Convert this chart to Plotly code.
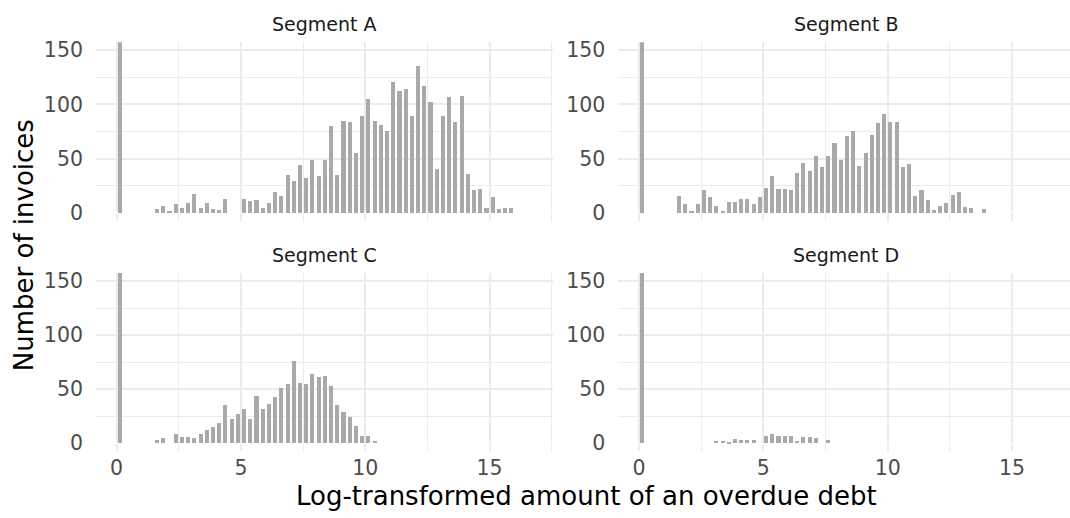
import plotly.graph_objects as go

# ---------------- data ----------------
BIN_WIDTH = 0.25
segments = ["Segment A", "Segment B", "Segment C", "Segment D"]

# counts per 0.25-wide bin, starting at bin [0, 0.25)
counts_a = [420, 0, 0, 0, 0, 0, 3, 6, 1, 8, 4, 9, 17, 4, 9, 3, 2, 13, 0, 0,
            13, 11, 12, 4, 9, 19, 15, 35, 29, 44, 32, 49, 34, 49, 80, 35, 85, 84, 55, 89,
            105, 85, 81, 75, 121, 112, 114, 89, 135, 117, 102, 40, 89, 107, 84, 108, 36, 21, 22, 4,
            14, 3, 4, 4]
counts_b = [380, 0, 0, 0, 0, 0, 15, 8, 1, 8, 21, 14, 6, 1, 10, 10, 13, 13, 8, 14,
            23, 34, 22, 22, 21, 37, 46, 38, 52, 42, 52, 64, 49, 71, 75, 43, 55, 72, 83, 91,
            84, 84, 42, 45, 15, 21, 12, 2, 6, 9, 16, 19, 5, 4, 0, 3, 0, 0, 0, 0,
            0, 0, 0, 0]
counts_c = [450, 0, 0, 0, 0, 0, 3, 5, 0, 8, 6, 6, 5, 8, 12, 15, 19, 35, 22, 27,
            32, 22, 44, 32, 36, 43, 51, 55, 76, 56, 55, 64, 61, 62, 53, 35, 29, 24, 16, 7,
            7, 2, 0, 0, 0, 0, 0, 0, 0, 0, 0, 0, 0, 0, 0, 0, 0, 0, 0, 0,
            0, 0, 0, 0]
counts_d = [400, 0, 0, 0, 0, 0, 0, 0, 0, 0, 0, 0, 2, 2, 1, 4, 3, 3, 3, 0,
            7, 8, 7, 7, 7, 2, 6, 6, 5, 0, 3, 0, 0, 0, 0, 0, 0, 0, 0, 0,
            0, 0, 0, 0, 0, 0, 0, 0, 0, 0, 0, 0, 0, 0, 0, 0, 0, 0, 0, 0,
            0, 0, 0, 0]
all_counts = [counts_a, counts_b, counts_c, counts_d]

x_ticks = [0, 5, 10, 15]
x_minor = [2.5, 7.5, 12.5, 17.5]
y_ticks = [0, 50, 100, 150]
y_minor = [25, 75, 125]

# ---------------- layout geometry ----------------
W, H = 1070, 518
FONT = "DejaVu Sans"
BAR_COLOR = "#A9A9A9"
GRID = "#EBEBEB"

x_domains = [[96 / W, 553 / W], [618.4 / W, 1.0], [96 / W, 553 / W], [618.4 / W, 1.0]]
x_ranges = [[-0.83, 17.55], [-0.83, 17.33], [-0.83, 17.55], [-0.83, 17.33]]
y_domains = [[1 - 220.25 / H, 1 - 38.75 / H], [1 - 220.25 / H, 1 - 38.75 / H],
             [1 - 454.2 / H, 1 - 273.2 / H], [1 - 454.2 / H, 1 - 273.2 / H]]

fig = go.Figure()
for i, (name, cnts) in enumerate(zip(segments, all_counts)):
    centers = [BIN_WIDTH / 2 + BIN_WIDTH * k for k in range(len(cnts))]
    xs = [c for c, v in zip(centers, cnts) if v > 0]
    ys = [v for v in cnts if v > 0]
    sfx = "" if i == 0 else str(i + 1)
    fig.add_trace(go.Bar(
        x=xs, y=ys, width=0.165, marker=dict(color=BAR_COLOR, line=dict(width=0)),
        xaxis="x" + sfx, yaxis="y" + sfx, showlegend=False, name=name,
    ))

layout = dict(
    width=W, height=H,
    margin=dict(l=0, r=0, t=0, b=0),
    paper_bgcolor="white", plot_bgcolor="white",
    font=dict(family=FONT, color="#4D4D4D"),
    bargap=0,
)
for i in range(4):
    sfx = "" if i == 0 else str(i + 1)
    bottom = i >= 2
    layout["xaxis" + sfx] = dict(
        domain=x_domains[i], range=x_ranges[i], anchor="y" + sfx,
        tickmode="array", tickvals=x_ticks, showticklabels=bottom,
        tickfont=dict(size=20.5, color="#4D4D4D", family=FONT),
        showgrid=True, gridcolor=GRID, gridwidth=2,
        minor=dict(tickvals=x_minor, showgrid=True, gridcolor=GRID, gridwidth=1.1),
        zeroline=False, showline=False, ticks="", ticklabelstandoff=2,
    )
    layout["yaxis" + sfx] = dict(
        domain=y_domains[i], range=[-7.5, 157.5], anchor="x" + sfx,
        tickmode="array", tickvals=y_ticks, showticklabels=True,
        tickfont=dict(size=20.5, color="#4D4D4D", family=FONT),
        showgrid=True, gridcolor=GRID, gridwidth=2,
        minor=dict(tickvals=y_minor, showgrid=True, gridcolor=GRID, gridwidth=1.1),
        zeroline=True, zerolinecolor="white", zerolinewidth=1.2,
        showline=False, ticks="", ticklabelstandoff=12,
    )

annotations = []
strip_pos = [((96 + 553) / 2 / W, 1 - 20 / H), ((618.4 + 1070 + 4) / 2 / W, 1 - 20 / H),
             ((96 + 553) / 2 / W, 1 - 255 / H), ((618.4 + 1070 + 4) / 2 / W, 1 - 255 / H)]
for name, (sx, sy) in zip(segments, strip_pos):
    annotations.append(dict(text=name, x=sx, y=sy, xref="paper", yref="paper",
                            xanchor="center", yanchor="middle", showarrow=False,
                            font=dict(size=19, color="#1A1A1A", family=FONT)))
annotations.append(dict(text="Number of invoices", x=24 / W, y=1 - 245 / H,
                        xref="paper", yref="paper", xanchor="center", yanchor="middle",
                        textangle=-90, showarrow=False,
                        font=dict(size=26, color="black", family=FONT)))
annotations.append(dict(text="Log-transformed amount of an overdue debt", x=586 / W, y=1 - 500 / H,
                        xref="paper", yref="paper", xanchor="center", yanchor="middle",
                        showarrow=False, font=dict(size=26, color="black", family=FONT)))
layout["annotations"] = annotations

fig.update_layout(**layout)
fig.write_html("out.html")
